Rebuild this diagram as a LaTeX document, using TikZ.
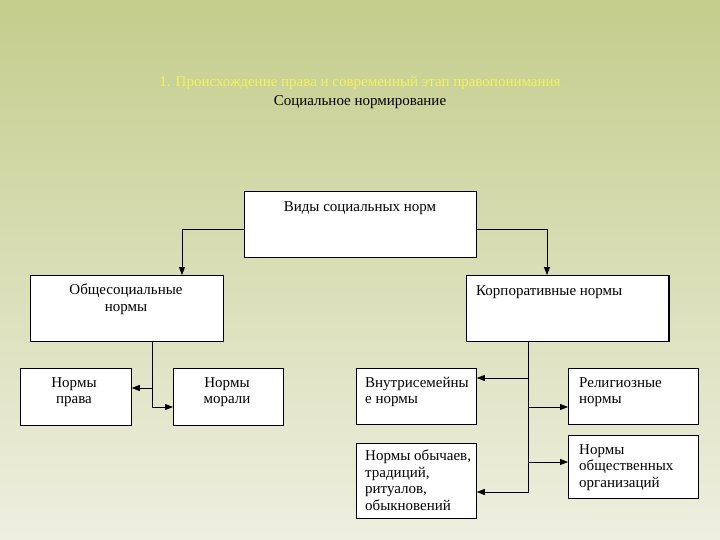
\documentclass[tikz,border=0pt]{standalone}
\usepackage{fontspec}
\setmainfont{Liberation Serif}
\usetikzlibrary{arrows.meta}
\definecolor{bgtop}{RGB}{196,205,140}
\definecolor{bgmid}{RGB}{224,228,192}
\definecolor{bgbot}{RGB}{238,239,224}
\definecolor{ttl}{RGB}{242,242,90}
\begin{document}
\begin{tikzpicture}[x=1pt, y=-1pt,
    box/.style={draw, fill=white, line width=0.8pt, anchor=north west, inner sep=0pt},
    lbl/.style={font=\fontsize{15}{16.5}\selectfont, inner sep=0pt, align=center, anchor=north},
    lbll/.style={lbl, align=left, anchor=north west},
    arr/.style={-{Triangle[length=8pt,width=6pt]}, line width=0.8pt}
  ]
  % Background
  \shade[top color=bgtop, middle color=bgmid, bottom color=bgbot] (0,0) rectangle (720,540);
  \useasboundingbox (0,0) rectangle (720,540);
  % Title
  \node[lbl, text=ttl] (title) at (360,76) {1. Происхождение права и современный этап правопонимания};
  \node[lbl] (subtitle) at (360,95) {Социальное нормирование};
  % Boxes
  \node[box, minimum width=232, minimum height=66] (vidy) at (244,191) {};
  \node[box, minimum width=193, minimum height=66] (gen) at (30,275) {};
  \node[box, minimum width=202, minimum height=66] (korp) at (466,275) {};
  \draw[line width=1.4pt] ([xshift=0.6pt]korp.north east) -- ([xshift=0.6pt]korp.south east);
  \node[box, minimum width=111, minimum height=57] (pravo) at (20,368) {};
  \node[box, minimum width=110, minimum height=57] (moral) at (173,368) {};
  \node[box, minimum width=120, minimum height=56] (vnutri) at (356,368) {};
  \node[box, minimum width=120, minimum height=75] (obych) at (356,443) {};
  \node[box, minimum width=130, minimum height=56] (relig) at (568,368) {};
  \node[box, minimum width=130, minimum height=63] (obsh) at (568,435) {};
  % Box texts
  \node[lbl] at (360,201) {Виды социальных норм};
  \node[lbl] at (126,284) {Общесоциальные\\нормы};
  \node[lbll] at (476,285) {Корпоративные нормы};
  \node[lbl] at (74,377) {Нормы\\права};
  \node[lbl] at (227,377) {Нормы\\морали};
  \node[lbll] at (365,377) {Внутрисемейны\\е нормы};
  \node[lbll] at (365,450) {Нормы обычаев,\\традиций,\\ритуалов,\\обыкновений};
  \node[lbll] at (579,377) {Религиозные\\нормы};
  \node[lbll] at (579,444) {Нормы\\общественных\\организаций};
  % Connectors from the top box
  \draw[arr] ([yshift=-5pt]vidy.west) -| (gen.north -| 182,0);
  \draw[arr] ([yshift=-5pt]vidy.east) -| (korp.north -| 547,0);
  % Left branch
  \coordinate (gs) at (152,341);
  \coordinate (gj) at (152,388);
  \draw[line width=0.8pt] (gs) -- (gj);
  \draw[arr] (gj) -- (pravo.east |- gj);
  \draw[arr] (gj) |- (moral.west |- 0,407);
  % Right branch
  \coordinate (ks) at (528,341);
  \coordinate (kj) at (528,378);
  \draw[line width=0.8pt] (ks) -- (kj);
  \draw[arr] (kj) -- (vnutri.east |- kj);
  \draw[arr] (kj) |- (obych.east |- 0,492);
  \draw[arr] (528,407) -- (relig.west |- 0,407);
  \draw[arr] (528,462) -- (obsh.west |- 0,462);
\end{tikzpicture}
\end{document}
